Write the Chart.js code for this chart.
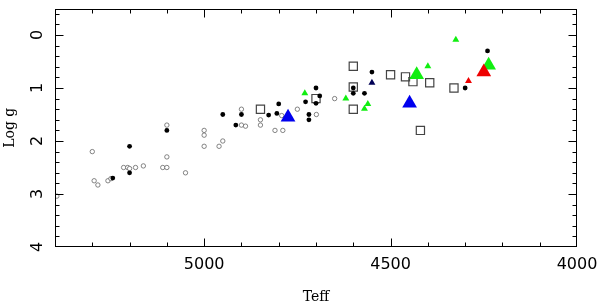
<!DOCTYPE html>
<html>
<head>
<meta charset="utf-8">
<script src="https://cdn.jsdelivr.net/npm/chart.js@4/dist/chart.umd.min.js"></script>
<style>
  html, body { margin: 0; padding: 0; background: #fff; }
  #wrap { width: 600px; height: 307px; position: relative; }
</style>
</head>
<body>
<div id="wrap"><canvas id="hrd"></canvas></div>
<script>
// ======================= DATA =======================

const xTicks = [5000, 4500, 4000];
const yTicks = [0, 1, 2, 3, 4];

// open grey circles
const openTeff = [5395, 5300, 5295, 5285, 5258, 5250, 5216, 5205, 5200, 5184, 5163, 5111, 5100, 5100, 5100, 5050,
  5000, 5000, 5000, 4960, 4950, 4900, 4900, 4889, 4849, 4849, 4810, 4789, 4792, 4750, 4699, 4650];
const openLogg = [3.04, 2.20, 2.75, 2.83, 2.75, 2.71, 2.50, 2.50, 2.52, 2.50, 2.47, 2.50, 2.50, 2.30, 1.70, 2.60,
  1.80, 1.89, 2.10, 2.10, 2.00, 1.40, 1.70, 1.72, 1.60, 1.70, 1.80, 1.80, 1.52, 1.40, 1.50, 1.20];

// filled black circles
const dotTeff = [5245, 5200, 5200, 5100, 4950, 4915, 4900, 4827, 4805, 4800, 4728, 4719, 4719, 4700, 4690,
  4700, 4600, 4600, 4570, 4550, 4300, 4240];
const dotLogg = [2.70, 2.10, 2.60, 1.80, 1.50, 1.70, 1.50, 1.51, 1.48, 1.30, 1.26, 1.50, 1.60, 1.00, 1.15,
  1.29, 1.00, 1.10, 1.10, 0.70, 1.00, 0.30];

// open squares
const squareTeff = [4849, 4700, 4600, 4600, 4600, 4500, 4460, 4440, 4420, 4395, 4330];
const squareLogg = [1.40, 1.20, 0.59, 0.98, 1.40, 0.75, 0.79, 0.88, 1.80, 0.90, 1.00];

// small triangles
const greenSmallTeff = [4730, 4620, 4561, 4570, 4400, 4325];
const greenSmallLogg = [1.10, 1.20, 1.30, 1.39, 0.59, 0.09];
const redSmallTeff = [4291];
const redSmallLogg = [0.87];
const navySmallTeff = [4550];
const navySmallLogg = [0.90];

// large triangles
const greenBigTeff = [4430, 4237];
const greenBigLogg = [0.75, 0.57];
const redBigTeff = [4250];
const redBigLogg = [0.70];
const blueBigTeff = [4775, 4449];
const blueBigLogg = [1.55, 1.29];

// ======================= HELPERS =======================

function pts(xs, ys) {
  return xs.map((v, i) => ({ x: v, y: ys[i] }));
}

function series(xs, ys, style) {
  return {
    data: pts(xs, ys),
    pointStyle: style.shape,
    pointRadius: style.radius,
    pointBorderWidth: style.border || 0,
    pointBorderColor: style.line || style.fill,
    pointBackgroundColor: style.fill,
    pointHoverRadius: style.radius,
    showLine: false
  };
}

const tickFont = { family: 'DejaVu Sans', size: 16 };
const titleFont = { family: 'DejaVu Serif', size: 14 };

// frame, inward ticks on all four sides, rotated y tick labels
const frameTicks = {
  id: 'frameTicks',
  afterDatasetsDraw(chart) {
    const { ctx, chartArea: a, scales: { x, y } } = chart;
    const L = Math.round(a.left) + 0.5, R = Math.round(a.right) - 0.5;
    const T = Math.round(a.top) + 0.5, B = Math.round(a.bottom) - 0.5;
    ctx.save();
    ctx.strokeStyle = '#000';
    ctx.lineWidth = 1;
    ctx.strokeRect(L, T, R - L, B - T);
    ctx.beginPath();
    for (let t = 5400; t >= 4000; t -= 100) {
      const px = Math.min(R, Math.max(L, Math.round(x.getPixelForValue(t)) + 0.5));
      const len = t % 500 === 0 ? 8 : 4;
      ctx.moveTo(px, B); ctx.lineTo(px, B - len);
      ctx.moveTo(px, T); ctx.lineTo(px, T + len);
    }
    for (let i = -2; i <= 20; i++) {
      const py = Math.min(B, Math.max(T, Math.round(y.getPixelForValue(i * 0.2)) + 0.5));
      const len = i % 5 === 0 ? 8 : 4;
      ctx.moveTo(L, py); ctx.lineTo(L + len, py);
      ctx.moveTo(R, py); ctx.lineTo(R - len, py);
    }
    ctx.stroke();

    ctx.fillStyle = '#000';
    ctx.font = tickFont.size + 'px "' + tickFont.family + '"';
    ctx.textAlign = 'center';
    ctx.textBaseline = 'middle';
    yTicks.forEach(v => {
      ctx.save();
      ctx.translate(a.left - 17, y.getPixelForValue(v));
      ctx.rotate(-Math.PI / 2);
      ctx.fillText(String(v), 0, 0);
      ctx.restore();
    });
    ctx.restore();
  }
};

// ======================= CHART =======================

new Chart(document.getElementById('hrd'), {
  type: 'scatter',
  data: {
    datasets: [
      series(redBigTeff, redBigLogg, { shape: 'triangle', radius: 8.5, fill: '#ee0000' }),
      series(greenBigTeff, greenBigLogg, { shape: 'triangle', radius: 8.5, fill: '#11ee11' }),
      series(blueBigTeff, blueBigLogg, { shape: 'triangle', radius: 8.5, fill: '#0000ee' }),
      series(dotTeff, dotLogg, { shape: 'circle', radius: 2.4, fill: '#000' }),
      series(squareTeff, squareLogg, { shape: 'rect', radius: 5.8, fill: 'rgba(0,0,0,0)', line: '#444', border: 1.2 }),
      series(redSmallTeff, redSmallLogg, { shape: 'triangle', radius: 4, fill: '#ee0000' }),
      series(greenSmallTeff, greenSmallLogg, { shape: 'triangle', radius: 4, fill: '#11ee11' }),
      series(navySmallTeff, navySmallLogg, { shape: 'triangle', radius: 4, fill: '#000055' }),
      series(openTeff, openLogg, { shape: 'circle', radius: 2.2, fill: '#fff', line: '#666', border: 0.8 })
    ]
  },
  options: {
    responsive: true,
    maintainAspectRatio: false,
    animation: false,
    layout: { padding: { top: 5, right: 23, left: 0, bottom: 0 } },
    plugins: {
      legend: { display: false },
      tooltip: { enabled: false }
    },
    scales: {
      x: {
        type: 'linear',
        reverse: true,
        min: 4000,
        max: 5400,
        grid: { display: false, drawTicks: false },
        border: { display: false },
        afterBuildTicks: (s) => { s.ticks = xTicks.map(v => ({ value: v })); },
        afterFit: (s) => {
          s.height = 60;
          s.paddingLeft = 0;
          s.paddingRight = 0;
        },
        ticks: {
          autoSkip: false,
          maxRotation: 0,
          padding: 8,
          color: '#000',
          font: tickFont,
          callback: (v) => String(v)
        },
        title: {
          display: true,
          text: 'Teff',
          color: '#000',
          font: titleFont,
          padding: { top: 0, bottom: 1 }
        }
      },
      y: {
        type: 'linear',
        reverse: true,
        min: -0.5,
        max: 4,
        grid: { display: false, drawTicks: false },
        border: { display: false },
        afterBuildTicks: (s) => { s.ticks = yTicks.map(v => ({ value: v })); },
        afterFit: (s) => { s.width = 55; },
        ticks: { display: false },
        title: {
          display: true,
          text: 'Log g',
          color: '#000',
          font: titleFont,
          padding: { top: 2, bottom: 0 }
        }
      }
    }
  },
  plugins: [frameTicks]
});
</script>
</body>
</html>
